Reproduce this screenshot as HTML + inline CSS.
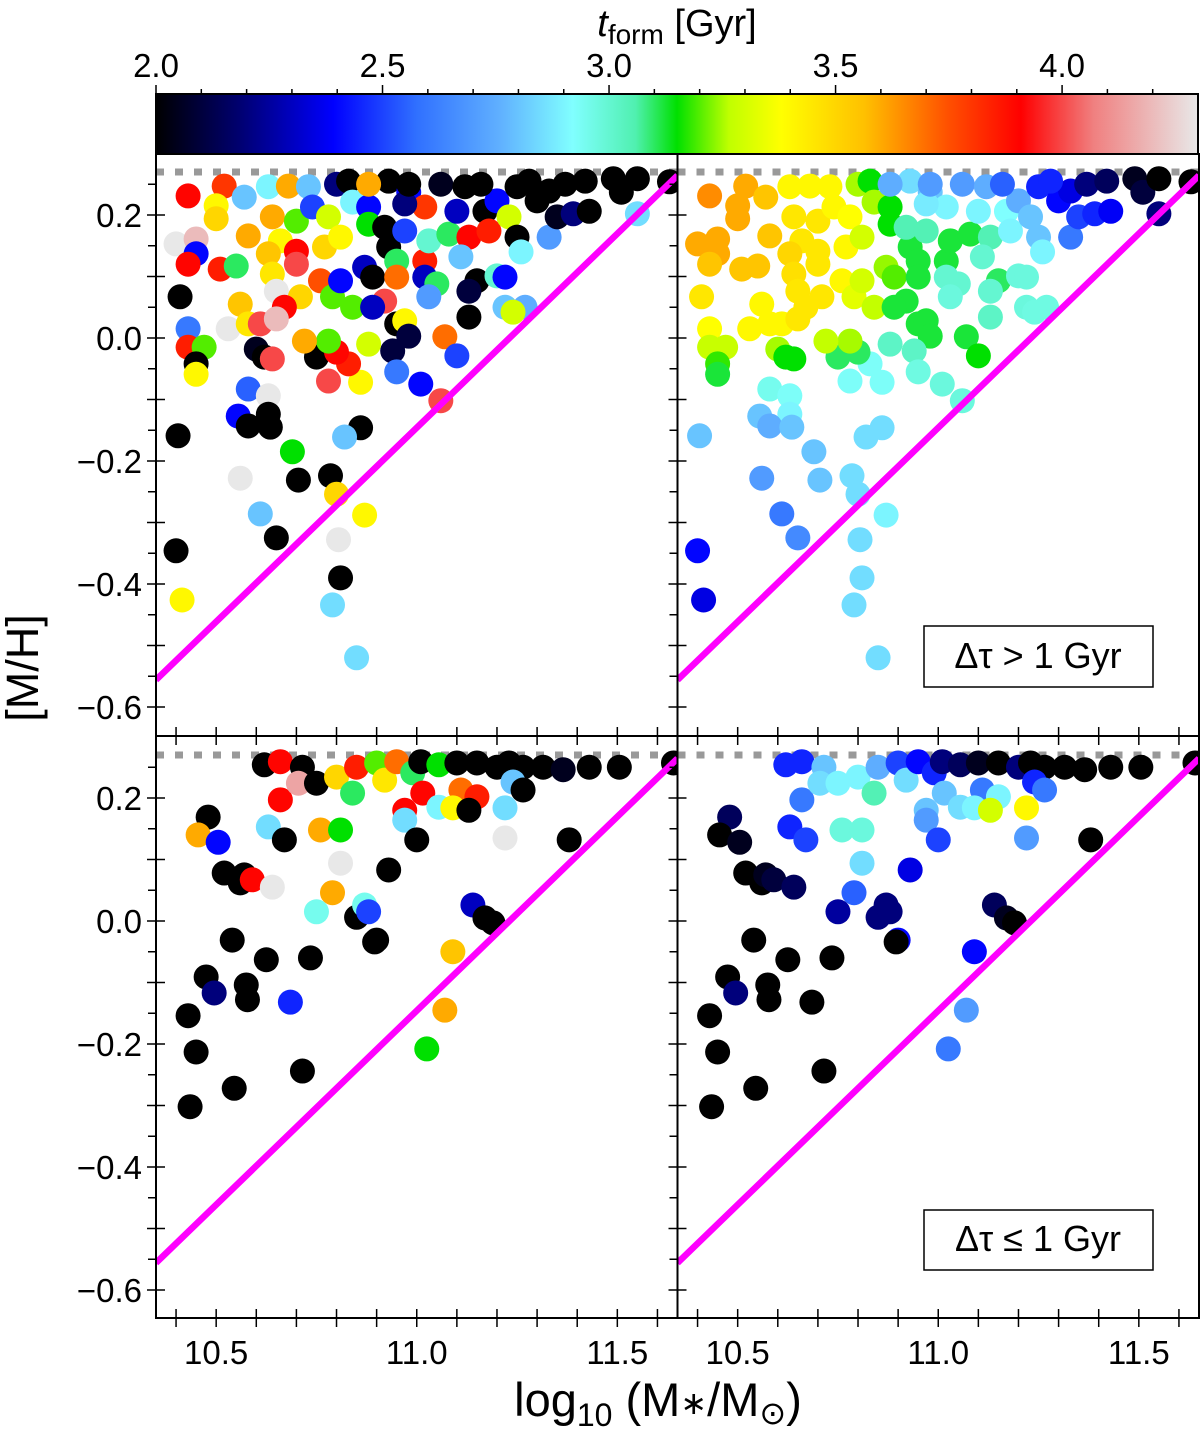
<!DOCTYPE html>
<html><head><meta charset="utf-8"><title>Metallicity vs stellar mass</title>
<style>
html,body{margin:0;padding:0;background:#fff;}
svg{display:block;font-family:"Liberation Sans","DejaVu Sans",sans-serif;}
</style></head>
<body>
<svg id="chart" width="1200" height="1429" viewBox="0 0 1200 1429" xmlns="http://www.w3.org/2000/svg">
<defs>
<linearGradient id="cbgrad" x1="0" x2="1" y1="0" y2="0">
<stop offset="0" stop-color="#000000"/>
<stop offset="0.08" stop-color="#000070"/>
<stop offset="0.17" stop-color="#0000ff"/>
<stop offset="0.25" stop-color="#3070ff"/>
<stop offset="0.33" stop-color="#60b0ff"/>
<stop offset="0.40" stop-color="#80ffff"/>
<stop offset="0.46" stop-color="#50f0b0"/>
<stop offset="0.50" stop-color="#00e000"/>
<stop offset="0.55" stop-color="#c0ff00"/>
<stop offset="0.60" stop-color="#ffff00"/>
<stop offset="0.68" stop-color="#ffc000"/>
<stop offset="0.76" stop-color="#ff5000"/>
<stop offset="0.83" stop-color="#ff0000"/>
<stop offset="0.90" stop-color="#f08080"/>
<stop offset="1" stop-color="#e8e8e8"/>
</linearGradient>
<clipPath id="clipTL"><rect x="156" y="154" width="521.5" height="582"/></clipPath>
<clipPath id="clipTR"><rect x="677.5" y="154" width="520.5" height="582"/></clipPath>
<clipPath id="clipBL"><rect x="156" y="736" width="521.5" height="582"/></clipPath>
<clipPath id="clipBR"><rect x="677.5" y="736" width="520.5" height="582"/></clipPath>
</defs>
<g id="colorbar">
<rect x="156" y="94" width="1042" height="60" fill="url(#cbgrad)" stroke="#000" stroke-width="2"/>
</g>
<text x="677" y="36" text-anchor="middle" font-size="38"><tspan font-style="italic">t</tspan><tspan font-size="28" dy="8">form</tspan><tspan dy="-8"> [Gyr]</tspan></text>
<g id="panels"></g>
<g id="axes"></g>
<text transform="translate(38,668) rotate(-90)" text-anchor="middle" font-size="45">[M/H]</text>
<text x="658" y="1416" text-anchor="middle" font-size="47">log<tspan font-size="32" dy="10">10</tspan><tspan dy="-10"> (M</tspan><tspan font-size="32" dy="-2">∗</tspan><tspan dy="2">/M</tspan><tspan font-size="32" dy="8">⊙</tspan><tspan dy="-8">)</tspan></text>
<g>
<rect x="924" y="626" width="229" height="61" fill="#fff" stroke="#000" stroke-width="1.5"/>
<text x="1038" y="668" text-anchor="middle" font-size="36">Δτ &gt; 1 Gyr</text>
</g>
<g>
<rect x="924" y="1210" width="229" height="60" fill="#fff" stroke="#000" stroke-width="1.5"/>
<text x="1038" y="1251" text-anchor="middle" font-size="36">Δτ ≤ 1 Gyr</text>
</g>
</svg>
<script>
// ---- data ----
const topMass=[10.43,10.52,10.50,10.50,10.57,10.40,10.45,10.45,10.43,10.51,10.55,10.58,10.63,10.68,10.73,10.64,10.70,10.66,10.63,10.70,10.64,10.70,10.65,10.71,10.67,10.77,10.74,10.78,10.76,10.79,10.81,10.81,10.84,10.80,10.83,10.84,10.88,10.88,10.87,10.89,10.92,10.89,10.95,10.97,10.98,10.93,10.95,10.95,11.02,11.03,11.08,10.92,10.97,11.02,11.05,11.03,11.13,11.11,11.15,11.13,11.13,11.20,11.22,11.22,11.27,11.24,11.07,11.10,10.88,10.94,10.95,11.01,11.06,10.78,10.86,10.83,10.75,10.80,10.78,10.72,10.60,10.62,10.64,10.43,10.43,10.47,10.45,10.45,10.41,10.53,10.56,10.58,10.61,10.65,10.58,10.63,10.63,10.93,10.98,11.02,10.97,11.06,11.12,11.10,11.17,11.18,11.20,11.16,11.23,11.25,11.26,11.25,11.30,11.33,11.35,11.39,11.43,11.33,11.37,11.42,11.49,11.51,11.55,11.55,11.63,11.28,10.88,10.98,10.405,10.40,10.415,10.555,10.58,10.635,10.69,10.705,10.61,10.65,10.56,10.785,10.80,10.805,10.81,10.79,10.85,10.87,10.86,10.82];
const topMH=[0.231,0.247,0.215,0.194,0.229,0.153,0.161,0.137,0.12,0.112,0.117,0.166,0.246,0.247,0.246,0.197,0.19,0.158,0.137,0.141,0.104,0.12,0.076,0.067,0.05,0.148,0.213,0.197,0.093,0.067,0.093,0.164,0.05,0.25,0.255,0.221,0.213,0.185,0.115,0.099,0.06,0.05,0.023,0.028,0.003,0.148,0.125,0.099,0.125,0.158,0.169,0.18,0.174,0.099,0.088,0.067,0.164,0.132,0.093,0.076,0.034,0.101,0.099,0.05,0.05,0.042,0.002,-0.029,-0.01,-0.021,-0.055,-0.075,-0.102,-0.07,-0.072,-0.042,-0.031,-0.023,-0.005,-0.005,-0.018,-0.031,-0.034,0.015,-0.015,-0.015,-0.042,-0.059,0.067,0.015,0.055,0.023,0.023,0.031,-0.083,-0.094,-0.124,0.255,0.237,0.213,0.218,0.25,0.246,0.206,0.206,0.174,0.223,0.25,0.197,0.164,0.14,0.246,0.223,0.164,0.197,0.202,0.206,0.239,0.25,0.255,0.259,0.237,0.259,0.202,0.254,0.255,0.25,0.25,-0.159,-0.346,-0.426,-0.127,-0.143,-0.145,-0.185,-0.231,-0.286,-0.325,-0.228,-0.224,-0.254,-0.328,-0.39,-0.434,-0.52,-0.288,-0.146,-0.161];
const topTformLong=[3.65,3.6,3.6,3.6,3.55,3.6,3.6,3.6,3.55,3.55,3.55,3.55,3.4,3.4,3.4,3.45,3.45,3.45,3.5,3.45,3.47,3.45,3.45,3.45,3.45,3.4,3.4,3.38,3.4,3.33,3.3,3.3,3.27,3.25,3.15,3.25,3.15,3.15,3.24,3.2,3.12,3.12,3.12,3.12,3.12,3.12,3.12,3.12,3.12,3.12,3.12,3.05,3.05,3.0,3.0,2.98,3.05,3.0,3.1,3.0,3.02,2.98,2.98,2.98,2.97,2.97,3.12,3.15,3.02,3.02,2.97,2.98,2.98,2.93,2.93,2.93,3.1,3.1,3.25,3.27,3.25,3.15,3.15,3.38,3.28,3.28,3.18,3.12,3.45,3.4,3.4,3.4,3.4,3.45,2.95,2.93,2.9,2.85,2.8,2.9,2.88,2.7,2.75,2.9,2.92,2.9,2.75,2.55,2.8,2.8,2.9,2.45,2.4,2.6,2.5,2.45,2.38,2.35,2.2,2.15,2.05,2.1,2.0,2.2,2.0,2.45,2.75,2.7,2.8,2.4,2.35,2.8,2.75,2.8,2.8,2.8,2.6,2.65,2.7,2.85,2.85,2.85,2.85,2.85,2.85,2.9,2.85,2.85];
const topTformAll=[3.9,3.8,3.4,3.5,2.8,4.3,4.2,2.4,3.9,3.85,3.1,3.6,2.9,3.6,2.8,3.6,3.2,3.4,3.55,3.9,3.45,4.0,4.3,3.5,3.9,3.5,2.5,3.3,3.75,3.2,2.4,3.4,3.2,2.2,2.0,2.9,2.4,3.15,2.3,2.0,4.0,2.3,2.0,3.4,2.1,2.0,3.1,3.7,3.85,3.0,3.1,2.0,2.5,2.3,3.1,2.7,3.9,2.8,2.0,2.1,2.0,3.0,2.4,2.8,2.75,3.3,3.7,2.5,3.3,2.1,2.6,2.4,4.0,4.0,3.4,3.85,2.0,3.9,3.2,3.6,2.05,2.0,4.0,2.6,3.85,3.2,2.0,3.4,2.0,4.3,3.55,3.45,4.0,4.2,2.55,4.3,2.0,2.0,2.4,3.8,2.2,2.05,2.0,2.3,2.0,3.85,2.4,2.0,3.3,2.0,2.9,2.0,2.0,2.7,2.05,2.2,2.0,2.0,2.0,2.0,2.0,2.0,2.0,2.85,2.0,2.0,3.6,2.0,2.0,2.0,3.4,2.4,2.0,2.0,3.15,2.0,2.8,2.0,4.3,2.0,3.5,4.3,2.0,2.85,2.85,3.4,2.0,2.8];
const botMass=[10.62,10.66,10.66,10.715,10.705,10.75,10.80,10.84,10.85,10.90,10.92,10.95,10.99,11.01,11.055,11.10,11.15,11.20,11.23,11.265,11.315,11.365,11.43,11.505,11.64,11.24,11.265,11.11,11.15,11.015,11.055,11.09,11.13,11.22,10.97,10.97,11.22,11.00,11.38,10.48,10.455,10.505,10.63,10.67,10.76,10.81,10.81,10.93,10.52,10.56,10.57,10.59,10.64,10.79,10.75,10.85,10.87,10.88,11.14,11.17,11.19,10.90,10.54,10.475,10.495,10.43,10.45,10.435,10.545,10.575,10.578,10.625,10.685,10.715,10.735,10.895,11.09,11.07,11.025];
const botMH=[0.254,0.259,0.197,0.25,0.224,0.224,0.234,0.208,0.25,0.257,0.229,0.259,0.241,0.259,0.254,0.257,0.257,0.25,0.257,0.25,0.25,0.246,0.25,0.25,0.257,0.226,0.213,0.213,0.202,0.208,0.185,0.184,0.18,0.184,0.18,0.164,0.135,0.132,0.132,0.169,0.14,0.128,0.153,0.132,0.148,0.148,0.094,0.083,0.078,0.062,0.075,0.067,0.055,0.046,0.015,0.006,0.026,0.015,0.026,0.005,-0.003,-0.031,-0.031,-0.091,-0.117,-0.154,-0.213,-0.302,-0.272,-0.104,-0.128,-0.063,-0.132,-0.244,-0.060,-0.034,-0.05,-0.145,-0.208];
const botTformShort=[2.45,2.45,2.6,2.8,2.85,2.9,2.9,3.05,2.75,2.5,2.85,2.4,2.45,2.2,2.15,2.05,2.0,2.2,2.0,2.0,2.0,2.0,2.0,2.0,2.0,2.45,2.6,2.6,2.9,2.8,2.85,2.9,3.3,3.4,2.8,2.7,2.7,2.5,2.0,2.15,2.0,2.05,2.45,2.5,2.98,2.98,2.85,2.35,2.0,2.0,2.05,2.1,2.15,2.55,2.25,2.2,2.2,2.2,2.15,2.05,2.0,2.4,2.0,2.0,2.2,2.0,2.0,2.0,2.0,2.0,2.0,2.0,2.0,2.0,2.0,2.0,2.4,2.7,2.6];
const botTformAll=[2.0,3.9,3.9,2.0,4.15,2.0,3.5,3.1,3.85,3.2,3.45,3.7,3.1,2.0,3.15,2.0,2.0,2.0,2.0,2.0,2.0,2.05,2.0,2.0,2.0,2.8,2.0,3.7,3.85,3.9,2.9,3.4,2.0,2.85,3.9,2.85,4.3,2.0,2.0,2.0,3.6,2.4,2.85,2.0,3.6,3.15,4.3,2.0,2.0,2.0,2.0,3.9,4.3,3.6,2.95,2.0,2.95,2.5,2.3,2.0,2.0,2.0,2.0,2.0,2.2,2.0,2.0,2.0,2.0,2.0,2.0,2.0,2.45,2.0,2.0,2.0,3.55,3.6,3.15];
const xTickLabels=["10.5","11.0","11.5"];
const xTickValues=[10.5,11.0,11.5];
const yTickValues=[0.2,0.0,-0.2,-0.4,-0.6];
const yTickLabels=["0.2","0.0","\u22120.2","\u22120.4","\u22120.6"];
const cbTickValues=[2.0,2.5,3.0,3.5,4.0];
const cbTickLabels=["2.0","2.5","3.0","3.5","4.0"];
const lineIntercept=-0.556, lineSlope=0.631, lineRef=10.35; // magenta relation
const solarLevel=0.27;

// ---- scales ----
const NS='http://www.w3.org/2000/svg';
const PW=521.5, XL=156;
const mLo=10.35, mHi=11.65;
function xScale(m,col){return XL+col*PW+(m-mLo)/(mHi-mLo)*PW;}
const yTop=[154,736];
function yScale(v,row){return (row===0?338:921)-v*615;}
const cbMin=2.0, cbMax=4.3;
function cbX(t){return 156+(t-cbMin)/(cbMax-cbMin)*1042;}
const stops=[[0,'#000000'],[0.08,'#000070'],[0.17,'#0000ff'],[0.25,'#3070ff'],[0.33,'#60b0ff'],[0.40,'#80ffff'],[0.46,'#50f0b0'],[0.50,'#00e000'],[0.55,'#c0ff00'],[0.60,'#ffff00'],[0.68,'#ffc000'],[0.76,'#ff5000'],[0.83,'#ff0000'],[0.90,'#f08080'],[1,'#e8e8e8']];
function hex(h){return [parseInt(h.substr(1,2),16),parseInt(h.substr(3,2),16),parseInt(h.substr(5,2),16)];}
function cmap(t){
  let f=Math.max(0,Math.min(1,(t-cbMin)/(cbMax-cbMin)));
  for(let i=1;i<stops.length;i++){
    if(f<=stops[i][0]){
      const a=hex(stops[i-1][1]),b=hex(stops[i][1]);
      const u=(f-stops[i-1][0])/(stops[i][0]-stops[i-1][0]);
      return 'rgb('+a.map((c,k)=>Math.round(c+(b[k]-c)*u)).join(',')+')';
    }
  }
  return stops[stops.length-1][1];
}
function mk(tag,attrs,parent){const e=document.createElementNS(NS,tag);for(const k in attrs)e.setAttribute(k,attrs[k]);parent.appendChild(e);return e;}

const panelsG=document.getElementById('panels');
const axesG=document.getElementById('axes');

const panels=[
 {row:0,col:0,clip:'clipTL',mass:topMass,mh:topMH,t:topTformAll,name:'panel-top-left'},
 {row:0,col:1,clip:'clipTR',mass:topMass,mh:topMH,t:topTformLong,name:'panel-top-right'},
 {row:1,col:0,clip:'clipBL',mass:botMass,mh:botMH,t:botTformAll,name:'panel-bottom-left'},
 {row:1,col:1,clip:'clipBR',mass:botMass,mh:botMH,t:botTformShort,name:'panel-bottom-right'}
];
panels.forEach(p=>{
  const g=mk('g',{'clip-path':'url(#'+p.clip+')'},panelsG);
  
  
  const sl=mk('line',{x1:xScale(mLo,p.col),x2:xScale(mHi,p.col),y1:yScale(solarLevel,p.row),y2:yScale(solarLevel,p.row),stroke:'#999','stroke-width':7,'stroke-dasharray':'8 11'},g);
  
  
  for(let i=0;i<p.mass.length;i++){
    const c=mk('circle',{cx:xScale(p.mass[i],p.col),cy:yScale(p.mh[i],p.row),r:12.5,fill:cmap(p.t[i])},g);
    
    
  }
  const y1=lineIntercept+lineSlope*(mLo-lineRef), y2=lineIntercept+lineSlope*(mHi-lineRef);
  const ml=mk('line',{x1:xScale(mLo,p.col),x2:xScale(mHi,p.col),y1:yScale(y1,p.row),y2:yScale(y2,p.row),stroke:'#ff00ff','stroke-width':6.5},g);
  
  
  const fr=mk('rect',{x:XL+p.col*PW,y:yTop[p.row],width:PW,height:582,fill:'none',stroke:'#000','stroke-width':2},axesG);
  
  
  for(let k=-13;k<=6;k++){
    const v=k*0.05, y=yScale(v,p.row);
    if(y<yTop[p.row]+1||y>yTop[p.row]+581)continue;
    const x0=XL+p.col*PW;
    const major=(Math.abs(k)%2===0);
    const tk=mk('line',{x1:x0-(major?9:8),x2:x0+(major?9:0),y1:y,y2:y,stroke:'#000','stroke-width':1.5},axesG);
    
    
  }
  for(let k=104;k<=116;k++){
    const m=k/10, x=xScale(m,p.col), yb=yTop[p.row]+582;
    const tk=mk('line',{x1:x,x2:x,y1:yb-9,y2:yb+9,stroke:'#000','stroke-width':1.5},axesG);
    
    
  }
  if(p.col===0){
    yTickValues.forEach((v,i)=>{
      const t=mk('text',{x:142,y:yScale(v,p.row)+12,'text-anchor':'end','font-size':33},axesG);
      t.textContent=yTickLabels[i];
      
      
    });
  }
  if(p.row===1){
    xTickValues.forEach((v,i)=>{
      const t=mk('text',{x:xScale(v,p.col),y:1364,'text-anchor':'middle','font-size':33},axesG);
      t.textContent=xTickLabels[i];
      
      
    });
  }
});
for(let k=20;k<=42;k++){
  const t=k/10, x=cbX(t), major=(k%5===0);
  const tk=mk('line',{x1:x,x2:x,y1:94-(major?9:5),y2:94,stroke:'#000','stroke-width':1.5},axesG);
  
  
}
cbTickValues.forEach((v,i)=>{
  const t=mk('text',{x:cbX(v),y:77,'text-anchor':'middle','font-size':33},axesG);
  t.textContent=cbTickLabels[i];
  
  
});
</script>
</body></html>
